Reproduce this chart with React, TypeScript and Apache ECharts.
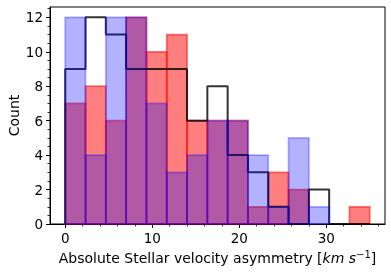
import React, { useEffect, useRef } from "react";
import * as echarts from "echarts";

// Histogram bins: 15 equal bins spanning 0 .. 35 km/s
const BIN_START = 0;
const BIN_END = 35;
const NUM_BINS = 15;

// Counts per bin
const redCounts = [7, 8, 6, 12, 10, 11, 6, 6, 6, 1, 3, 2, 0, 0, 1];
const blueCounts = [12, 4, 12, 12, 7, 3, 4, 6, 6, 4, 1, 5, 1, 0, 0];
const blackCounts = [9, 12, 11, 9, 9, 9, 6, 8, 4, 3, 1, 0, 2, 0, 0];

const xMajorTicks = [0, 10, 20, 30];
const xMinorTicks = [2, 4, 6, 8, 12, 14, 16, 18, 22, 24, 26, 28, 32, 34, 36];
const yMajorTicks = [0, 2, 4, 6, 8, 10, 12];
const yMinorTicks = [0.5, 1, 1.5, 2.5, 3, 3.5, 4.5, 5, 5.5, 6.5, 7, 7.5, 8.5, 9, 9.5, 10.5, 11, 11.5, 12.5];

const binWidth = (BIN_END - BIN_START) / NUM_BINS;
const edges = Array.from({ length: NUM_BINS + 1 }, (_, i) => BIN_START + i * binWidth);

const FONT = "DejaVu Sans";

function barSeries(counts: number[], fill: string, stroke: string) {
  const data = counts.map((c, i) => [edges[i], edges[i + 1], c]);
  return {
    type: "custom",
    xAxisIndex: 0,
    yAxisIndex: 0,
    data,
    encode: { x: [0, 1], y: 2 },
    renderItem: (params: any, api: any) => {
      const x0 = api.value(0);
      const x1 = api.value(1);
      const v = api.value(2);
      if (v <= 0) return null;
      const p0 = api.coord([x0, v]);
      const p1 = api.coord([x1, 0]);
      return {
        type: "rect",
        shape: { x: p0[0], y: p0[1], width: p1[0] - p0[0], height: p1[1] - p0[1] },
        style: { fill, stroke, lineWidth: 1.8 },
      };
    },
  };
}

export default function App() {
  const ref = useRef<HTMLDivElement>(null);
  useEffect(() => {
    if (!ref.current) return;
    const chart = echarts.init(ref.current, null, { renderer: "svg" });

    const stepPts: number[][] = [[edges[0], 0]];
    blackCounts.forEach((c, i) => stepPts.push([edges[i], c]));
    stepPts.push([edges[NUM_BINS], 0]);

    const xMin = -1.75;
    const xMax = 36.75;
    const yMin = 0;
    const yMax = 12.6;

    const tickLabel = { color: "#000", fontFamily: FONT, fontSize: 13.5 };

    chart.setOption({
      animation: false,
      grid: {
        left: 50,
        right: 6,
        top: 7,
        bottom: 54,
        containLabel: false,
        outerBoundsMode: "none",
        show: true,
        borderColor: "#000",
        borderWidth: 1,
        backgroundColor: "transparent",
      },
      xAxis: [
        {
          type: "value",
          min: xMin,
          max: xMax,
          position: "bottom",
          axisLine: { show: true, onZero: false, lineStyle: { color: "#000", width: 1 } },
          axisTick: { show: true, customValues: xMajorTicks, length: 4, lineStyle: { color: "#000", width: 1 } },
          axisLabel: { show: true, customValues: xMajorTicks, margin: 7, ...tickLabel },
          splitLine: { show: false },
          name: "Absolute Stellar velocity asymmetry [{i|km s}{sup|−1}]",
          nameLocation: "middle",
          nameGap: 25,
          nameMoveOverlap: false,
          nameTextStyle: {
            color: "#000",
            fontFamily: FONT,
            fontSize: 14,
            rich: {
              i: { fontFamily: FONT, fontStyle: "italic", fontSize: 14, color: "#000" },
              sup: { fontFamily: FONT, fontSize: 10, color: "#000", padding: [0, 0, 8, 0] },
            },
          },
        },
        {
          type: "value",
          min: xMin,
          max: xMax,
          position: "bottom",
          axisLine: { show: false, onZero: false },
          axisTick: { show: true, customValues: xMinorTicks, length: 2.5, lineStyle: { color: "#000", width: 0.8 } },
          axisLabel: { show: false },
          splitLine: { show: false },
        },
      ],
      yAxis: [
        {
          type: "value",
          min: yMin,
          max: yMax,
          position: "left",
          axisLine: { show: true, onZero: false, lineStyle: { color: "#000", width: 1 } },
          axisTick: { show: true, customValues: yMajorTicks, length: 4, lineStyle: { color: "#000", width: 1 } },
          axisLabel: { show: true, customValues: yMajorTicks, margin: 7, ...tickLabel },
          splitLine: { show: false },
          name: "Count",
          nameLocation: "middle",
          nameGap: 29,
          nameMoveOverlap: false,
          nameTextStyle: { color: "#000", fontFamily: FONT, fontSize: 14 },
        },
        {
          type: "value",
          min: yMin,
          max: yMax,
          position: "left",
          axisLine: { show: false, onZero: false },
          axisTick: { show: true, customValues: yMinorTicks, length: 2.5, lineStyle: { color: "#000", width: 0.8 } },
          axisLabel: { show: false },
          splitLine: { show: false },
        },
      ],
      series: [
        barSeries(redCounts, "rgba(255,0,0,0.5)", "rgba(255,0,0,0.5)"),
        {
          type: "line",
          xAxisIndex: 0,
          yAxisIndex: 0,
          data: stepPts,
          step: "end",
          showSymbol: false,
          symbol: "none",
          lineStyle: { color: "rgba(0,0,0,0.8)", width: 2 },
          z: 2,
        },
        { ...barSeries(blueCounts, "rgba(0,0,255,0.3)", "rgba(0,0,255,0.3)"), z: 3 },
      ],
    });
    return () => chart.dispose();
  }, []);
  return (
    <div
      ref={ref}
      style={{ position: "fixed", left: 0, top: 0, width: 391, height: 278 }}
    />
  );
}
